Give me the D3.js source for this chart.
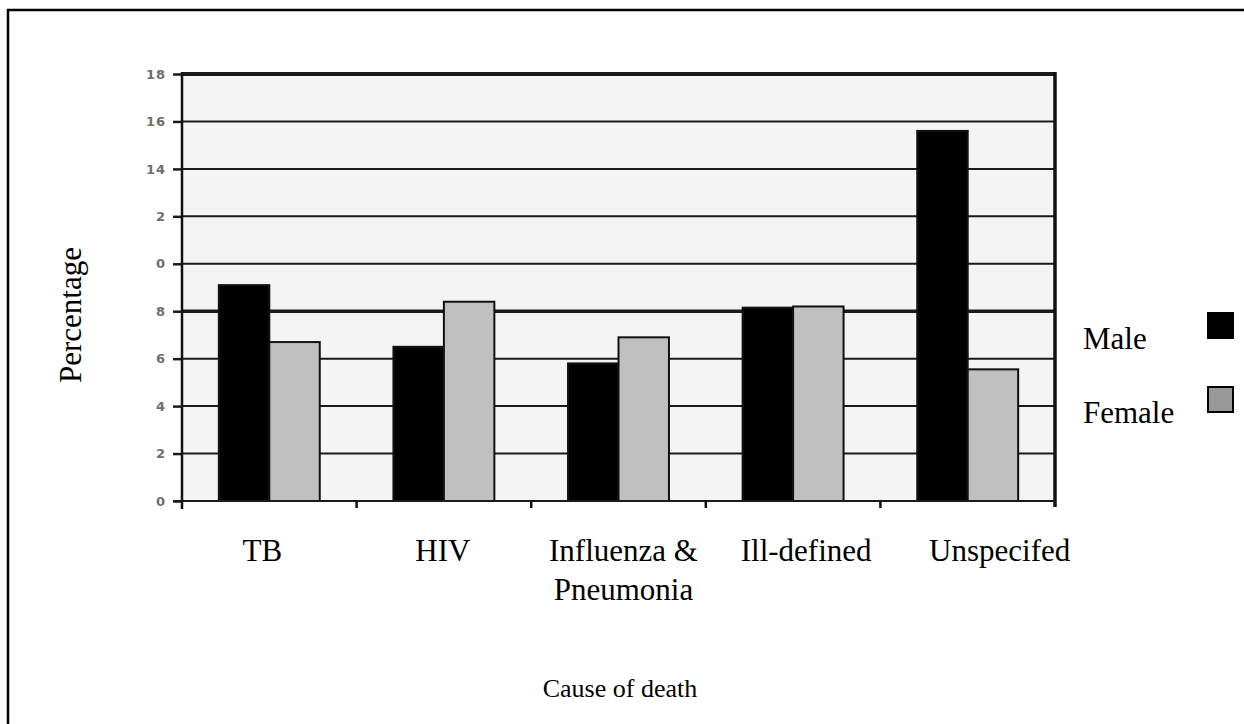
<!DOCTYPE html>
<html>
<head>
<meta charset="utf-8">
<script src="https://cdn.jsdelivr.net/npm/d3@7"></script>
<style>
  body { margin: 0; background: #fff; }
  svg { display: block; }
  .serif { font-family: "Liberation Serif", "Times New Roman", serif; fill: #000; }
</style>
</head>
<body>
<script>
'use strict';

// chart data
const causes = ["TB", "HIV", "Influenza & Pneumonia", "Ill-defined", "Unspecifed"];
const causeLines = [["TB"], ["HIV"], ["Influenza &", "Pneumonia"], ["Ill-defined"], ["Unspecifed"]];
const sexes = ["Male", "Female"];
const maleValues = [9.1, 6.5, 5.8, 8.15, 15.6];
const femaleValues = [6.7, 8.4, 6.9, 8.2, 5.55];
const yTicks = [0, 2, 4, 6, 8, 10, 12, 14, 16, 18];
// tick labels as printed (leading digits of 10 and 12 are cut off)
const yTickLabels = ["0", "2", "4", "6", "8", "0", "2", "14", "16", "18"];

(function() {
  const width = 1244, height = 724;
  const plot = { left: 182, right: 1055, top: 74, bottom: 501 };
  // small horizontal shift of each category label
  const labelNudge = [-7, -1, 5, 13, 32];

  let svg = d3.select('body').append('svg')
    .attr('width', width)
    .attr('height', height);

  // outer frame
  svg.append('rect')
    .attr('x', 8).attr('y', 10)
    .attr('width', width + 20).attr('height', height + 20)
    .attr('fill', 'none')
    .attr('stroke', '#000')
    .attr('stroke-width', 2.5);

  let x0 = d3.scaleBand()
    .domain(causes)
    .range([plot.left, plot.right])
    .padding(0);

  let x1 = d3.scaleBand()
    .domain(sexes)
    .range([0, x0.bandwidth()])
    .paddingInner(0)
    .paddingOuter(0.73);

  let y = d3.scaleLinear()
    .domain([0, 18])
    .range([plot.bottom, plot.top]);

  // plot background
  svg.append('rect')
    .attr('x', plot.left).attr('y', plot.top)
    .attr('width', plot.right - plot.left)
    .attr('height', plot.bottom - plot.top)
    .attr('fill', '#f4f4f4');

  // gridlines
  svg.append('g')
    .selectAll('line')
    .data(yTicks.filter(d => d > 0))
    .enter()
    .append('line')
      .attr('x1', plot.left).attr('x2', plot.right)
      .attr('y1', d => y(d)).attr('y2', d => y(d))
      .attr('stroke', '#1a1a1a')
      .attr('stroke-width', d => d === 18 ? 4 : (d === 8 ? 3.5 : 2));

  // bars
  let rows = causes.map((c, i) => ({ cause: c, values: [maleValues[i], femaleValues[i]] }));
  let groups = svg.append('g')
    .selectAll('g')
    .data(rows)
    .enter()
    .append('g')
      .attr('transform', d => 'translate(' + x0(d.cause) + ',0)');

  groups.selectAll('rect')
    .data(d => d.values.map((v, j) => ({ sex: sexes[j], value: v })))
    .enter()
    .append('rect')
      .attr('x', d => x1(d.sex))
      .attr('y', d => y(d.value))
      .attr('width', x1.bandwidth())
      .attr('height', d => y(0) - y(d.value))
      .attr('fill', d => d.sex === 'Male' ? '#000' : '#c0c0c0')
      .attr('stroke', '#111')
      .attr('stroke-width', 2);

  // y axis
  let yAxis = d3.axisLeft(y)
    .tickValues(yTicks)
    .tickSize(9)
    .tickPadding(7)
    .tickFormat((d, i) => yTickLabels[i]);
  let yg = svg.append('g')
    .attr('transform', 'translate(' + plot.left + ',0)')
    .call(yAxis);
  yg.select('.domain').remove();
  yg.selectAll('.tick line').attr('stroke', '#1a1a1a').attr('stroke-width', 2.5);
  yg.selectAll('.tick text')
    .attr('fill', '#6e6e6e')
    .style('font-family', '"DejaVu Sans", Verdana, sans-serif')
    .style('font-size', '13px')
    .style('letter-spacing', '1px')
    .style('font-weight', 'bold');

  // axis lines
  svg.append('line')
    .attr('x1', plot.left).attr('x2', plot.left)
    .attr('y1', plot.top - 2).attr('y2', plot.bottom + 8)
    .attr('stroke', '#111').attr('stroke-width', 2.5);
  svg.append('line')
    .attr('x1', plot.right).attr('x2', plot.right)
    .attr('y1', plot.top - 2).attr('y2', plot.bottom + 6)
    .attr('stroke', '#111').attr('stroke-width', 3.5);
  svg.append('line')
    .attr('x1', plot.left - 9).attr('x2', plot.right)
    .attr('y1', plot.bottom).attr('y2', plot.bottom)
    .attr('stroke', '#1a1a1a').attr('stroke-width', 2);

  // category boundary ticks
  svg.append('g')
    .selectAll('line')
    .data(causes.slice(1))
    .enter()
    .append('line')
      .attr('x1', d => x0(d)).attr('x2', d => x0(d))
      .attr('y1', plot.bottom).attr('y2', plot.bottom + 7)
      .attr('stroke', '#111').attr('stroke-width', 2.5);

  // category labels
  let labels = svg.append('g')
    .selectAll('text')
    .data(causeLines)
    .enter()
    .append('text')
      .attr('class', 'serif')
      .attr('text-anchor', 'middle')
      .style('font-size', '31px')
      .attr('transform', (d, i) =>
        'translate(' + (x0(causes[i]) + x0.bandwidth() / 2 + labelNudge[i]) + ',561)');
  labels.selectAll('tspan')
    .data(d => d)
    .enter()
    .append('tspan')
      .attr('x', 0)
      .attr('dy', (d, i) => i === 0 ? 0 : 39)
      .text(d => d);

  // axis titles
  svg.append('text')
    .attr('class', 'serif')
    .attr('transform', 'translate(81,315)rotate(-90)')
    .attr('text-anchor', 'middle')
    .style('font-size', '31px')
    .text('Percentage');

  svg.append('text')
    .attr('class', 'serif')
    .attr('x', 620).attr('y', 697)
    .attr('text-anchor', 'middle')
    .style('font-size', '26px')
    .text('Cause of death');

  // legend
  let legend = svg.append('g')
    .selectAll('g')
    .data(sexes)
    .enter()
    .append('g')
      .attr('transform', (d, i) => 'translate(0,' + (i * 74) + ')');

  legend.append('text')
    .attr('class', 'serif')
    .attr('x', 1083).attr('y', 349)
    .style('font-size', '31px')
    .text(d => d);

  legend.append('rect')
    .attr('x', 1208).attr('y', 313)
    .attr('width', 25).attr('height', 25)
    .attr('fill', d => d === 'Male' ? '#000' : '#999')
    .attr('stroke', '#000')
    .attr('stroke-width', 2);
})();
</script>
</body>
</html>
